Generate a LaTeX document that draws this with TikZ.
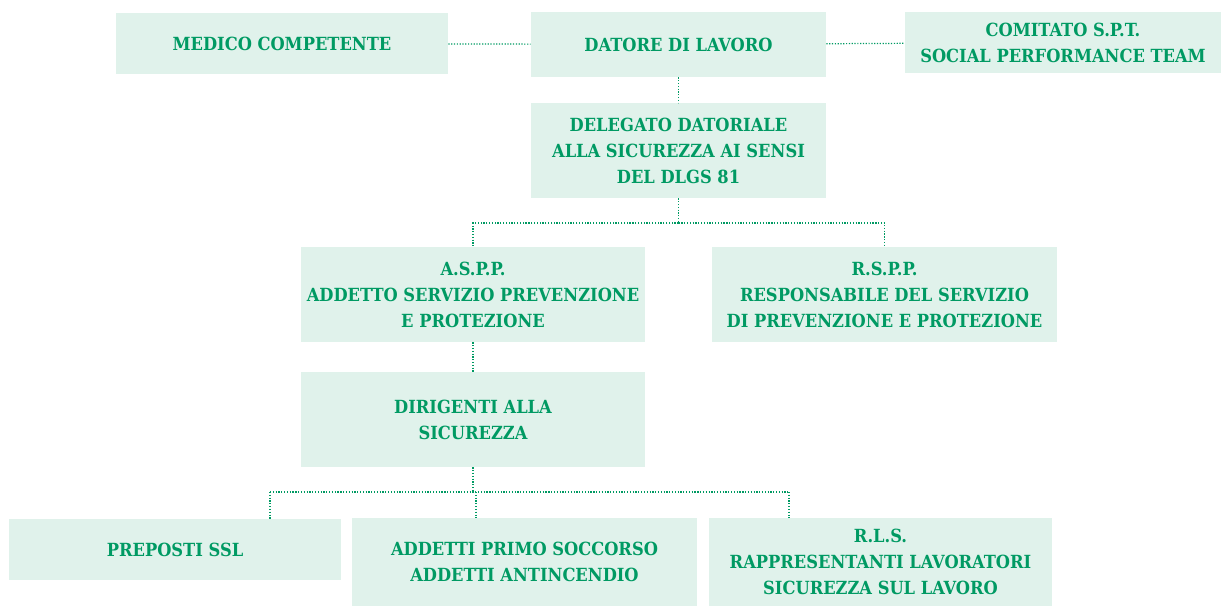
\documentclass[tikz,border=0pt]{standalone}
\usepackage{fontspec}
\newfontfamily\orgfont{DejaVu Serif Condensed}
\usetikzlibrary{positioning}
\definecolor{SPGreen}{HTML}{009A63}
\definecolor{SPMint}{HTML}{E0F2EB}

\begin{document}
\begin{tikzpicture}[
  x=0.02cm, y=-0.02cm,
  box/.style={fill=SPMint, text=SPGreen, align=center, inner sep=0pt,
    font=\orgfont\fontsize{10.3}{14.8}\selectfont\bfseries},
  wide/.style={minimum width=6.9cm},
  link/.style={draw=SPGreen, line width=0.7pt, dash pattern=on 0.7pt off 0.9pt}
]
\useasboundingbox (0,0) rectangle (1226,606);
% top row
\node[box, minimum width=6.64cm, minimum height=1.22cm] (medico) at (282,43.5) {MEDICO COMPETENTE};
\node[box, minimum width=5.9cm, minimum height=1.3cm] (datore) at (678.5,44.5) {DATORE DI LAVORO};
\node[box, minimum width=6.32cm, minimum height=1.22cm] (comitato) at (1063,42.5) {COMITATO S.P.T.\\SOCIAL PERFORMANCE TEAM};
\node[box, minimum width=5.9cm, minimum height=1.9cm] (delegato) at (678.5,150.5) {DELEGATO DATORIALE\\ALLA SICUREZZA AI SENSI\\DEL DLGS 81};
% middle
\node[box, wide, minimum height=1.9cm] (aspp) at (473,294.5) {A.S.P.P.\\ADDETTO SERVIZIO PREVENZIONE\\E PROTEZIONE};
\node[box, wide, minimum height=1.9cm] (rspp) at (884.5,294.5) {R.S.P.P.\\RESPONSABILE DEL SERVIZIO\\DI PREVENZIONE E PROTEZIONE};
\node[box, wide, minimum height=1.9cm] (dirigenti) at (473,419.5) {DIRIGENTI ALLA\\SICUREZZA};
% bottom row
\node[box, minimum width=6.64cm, minimum height=1.22cm] (preposti) at (175,549.5) {PREPOSTI SSL};
\node[box, wide, minimum height=1.76cm] (addetti) at (524.5,562) {ADDETTI PRIMO SOCCORSO\\ADDETTI ANTINCENDIO};
\node[box, minimum width=6.86cm, minimum height=1.76cm] (rls) at (880.5,562) {R.L.S.\\RAPPRESENTANTI LAVORATORI\\SICUREZZA SUL LAVORO};

\coordinate (fork1) at (678.5,223);
\coordinate (fork2) at (473,492);
\coordinate (dropA) at (270,492);
\coordinate (dropB) at (476,492);
\coordinate (dropC) at (789,492);

\draw[link] (medico) -- (datore);
\draw[link] (datore) -- (comitato);
\draw[link] (datore) -- (delegato);
\draw[link] (delegato) -- (fork1);
\draw[link] (fork1) -| (aspp);
\draw[link] (fork1) -| (rspp);
\draw[link] (aspp) -- (dirigenti);
\draw[link] (dirigenti) -- (fork2);
\draw[link] (dropA) -- (dropC);
\draw[link] (dropA) -- (dropA |- preposti.north);
\draw[link] (dropB) -- (dropB |- addetti.north);
\draw[link] (dropC) -- (dropC |- rls.north);
\end{tikzpicture}
\end{document}
